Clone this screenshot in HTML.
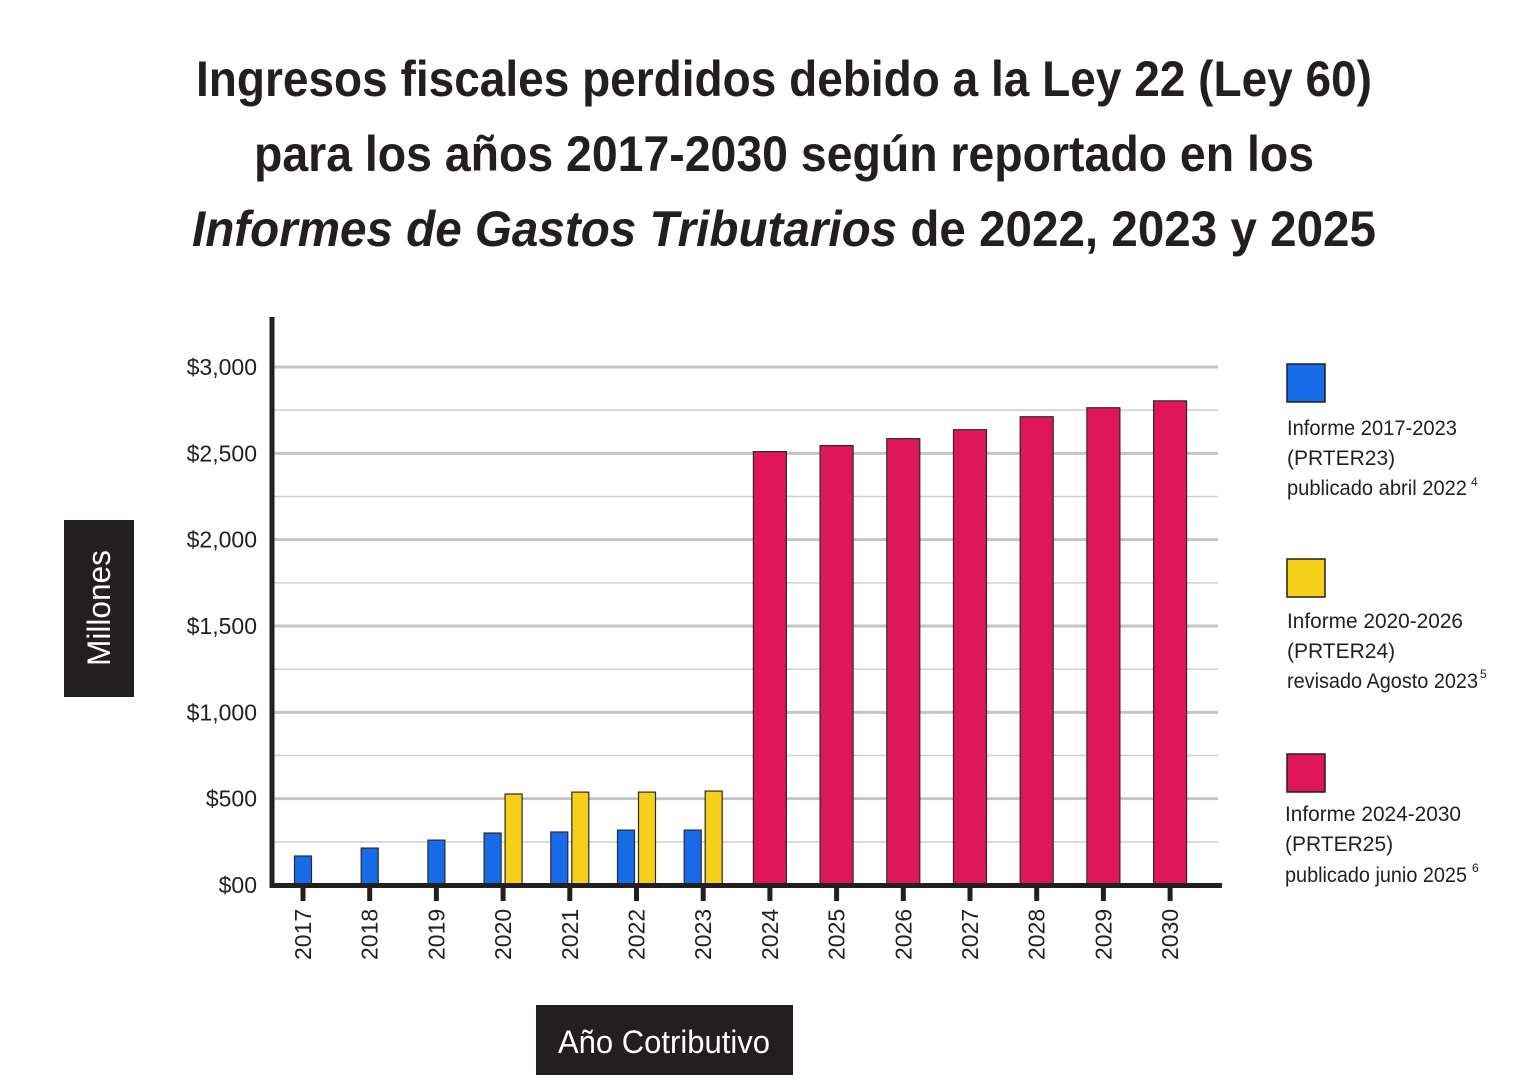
<!DOCTYPE html>
<html><head><meta charset="utf-8"><style>
html,body{margin:0;padding:0;background:#fff;}
svg{display:block;}
text{font-family:"Liberation Sans Narrow","Liberation Sans",sans-serif;fill:#231f20;}
</style></head><body>
<svg id="chart" width="1528" height="1080" viewBox="0 0 1528 1080" xmlns="http://www.w3.org/2000/svg">
<g font-weight="bold" font-size="50" text-anchor="middle">
<text x="784" y="96" textLength="1176" lengthAdjust="spacingAndGlyphs">Ingresos fiscales perdidos debido a la Ley 22 (Ley 60)</text>
<text x="784" y="171" textLength="1060" lengthAdjust="spacingAndGlyphs">para los años 2017-2030 según reportado en los</text>
<text x="784" y="246" textLength="1184" lengthAdjust="spacingAndGlyphs"><tspan font-style="italic">Informes de Gastos Tributarios</tspan> de 2022, 2023 y 2025</text>
</g>
<g id="grid"></g>
<g id="bars"></g>
<g id="axes"></g>
<g>
<rect x="64" y="520" width="70" height="177" fill="#231f20"/>
<text x="0" y="0" transform="translate(110,608) rotate(-90)" font-size="32" text-anchor="middle" style="fill:#fff" textLength="116" lengthAdjust="spacingAndGlyphs">Millones</text>
</g>
<g>
<rect x="536" y="1005" width="257" height="70" fill="#231f20"/>
<text x="664" y="1053" font-size="32" text-anchor="middle" style="fill:#fff" textLength="212" lengthAdjust="spacingAndGlyphs">Año Cotributivo</text>
</g>
<g font-size="21">
<g>
<rect x="1287" y="364" width="38" height="38" fill="#166be8" stroke="#231f20" stroke-width="1.5"/>
<text x="1287" y="435" textLength="170" lengthAdjust="spacingAndGlyphs">Informe 2017-2023</text>
<text x="1287" y="465">(PRTER23)</text>
<text x="1287" y="495" textLength="180" lengthAdjust="spacingAndGlyphs">publicado abril 2022</text>
<text x="1471" y="486" font-size="12">4</text>
</g>
<g>
<rect x="1287" y="559" width="38" height="38" fill="#f5cf1a" stroke="#231f20" stroke-width="1.5"/>
<text x="1287" y="628" textLength="176" lengthAdjust="spacingAndGlyphs">Informe 2020-2026</text>
<text x="1287" y="658">(PRTER24)</text>
<text x="1287" y="688" textLength="191" lengthAdjust="spacingAndGlyphs">revisado Agosto 2023</text>
<text x="1480" y="678" font-size="12">5</text>
</g>
<g>
<rect x="1287" y="754" width="38" height="38" fill="#e0165a" stroke="#231f20" stroke-width="1.5"/>
<text x="1285" y="821" textLength="176" lengthAdjust="spacingAndGlyphs">Informe 2024-2030</text>
<text x="1285" y="851">(PRTER25)</text>
<text x="1285" y="882" textLength="182" lengthAdjust="spacingAndGlyphs">publicado junio 2025</text>
<text x="1472" y="872" font-size="12">6</text>
</g>
</g>
</svg>
<script>
const years = ["2017","2018","2019","2020","2021","2022","2023","2024","2025","2026","2027","2028","2029","2030"];
const prter23 = [168,214,260,301,307,318,318,null,null,null,null,null,null,null];
const prter24 = [null,null,null,527,538,538,544,null,null,null,null,null,null,null];
const prter25 = [null,null,null,null,null,null,null,2510,2545,2585,2637,2712,2764,2804];
const yTicks = [0,500,1000,1500,2000,2500,3000];
const yTickLabels = ["$00","$500","$1,000","$1,500","$2,000","$2,500","$3,000"];
const minorTicks = [250,750,1250,1750,2250,2750];

const NS="http://www.w3.org/2000/svg";
const y0=885, yTop=367, vMax=3000;
const yScale=v=>y0-(v/vMax)*(y0-yTop);
const xScale=i=>303+i*66.7;
function mk(tag,attrs,parent){const e=document.createElementNS(NS,tag);for(const k in attrs)e.setAttribute(k,attrs[k]);parent.appendChild(e);return e;}
const grid=document.getElementById('grid'),bars=document.getElementById('bars'),axes=document.getElementById('axes');
minorTicks.forEach(v=>{
 const l=mk('line',{x1:272,x2:1218,y1:yScale(v),y2:yScale(v),stroke:'#cfcfcf','stroke-width':1.5},grid);
 
 
});
yTicks.forEach((v,i)=>{
 if(v>0){const l=mk('line',{x1:272,x2:1218,y1:yScale(v),y2:yScale(v),stroke:'#c4c4c4','stroke-width':3},grid);
 
 }
 const t=mk('text',{x:257,y:yScale(v)+8,'text-anchor':'end','font-size':23},axes);
 t.textContent=yTickLabels[i];
 
 
});
function bar(v,x,w,fill,name){
 const r=mk('rect',{x:x,y:yScale(v),width:w,height:y0-yScale(v),fill:fill,stroke:'#2a2a2a','stroke-width':1.2},bars);
 
 
}
years.forEach((yr,i)=>{
 const cx=xScale(i);
 const a=prter23[i],b=prter24[i],c=prter25[i];
 if(a!=null&&b!=null){bar(a,cx-19,17,'#166be8','bar-prter23-'+yr);bar(b,cx+2,17,'#f5cf1a','bar-prter24-'+yr);}
 else if(a!=null){bar(a,cx-8.5,17,'#166be8','bar-prter23-'+yr);}
 if(c!=null){bar(c,cx-16.5,33,'#e0165a','bar-prter25-'+yr);}
 const tk=mk('line',{x1:cx,x2:cx,y1:886,y2:901,stroke:'#231f20','stroke-width':5},axes);
 
 
 const t=mk('text',{x:0,y:0,transform:`translate(${cx+8},960) rotate(-90)`,'font-size':23},axes);
 t.textContent=yr;
 
 
});
const ya=mk('line',{x1:272,x2:272,y1:317,y2:888,stroke:'#231f20','stroke-width':5},axes);


const xa=mk('line',{x1:270,x2:1222,y1:885.5,y2:885.5,stroke:'#231f20','stroke-width':5},axes);


</script>
</body></html>
